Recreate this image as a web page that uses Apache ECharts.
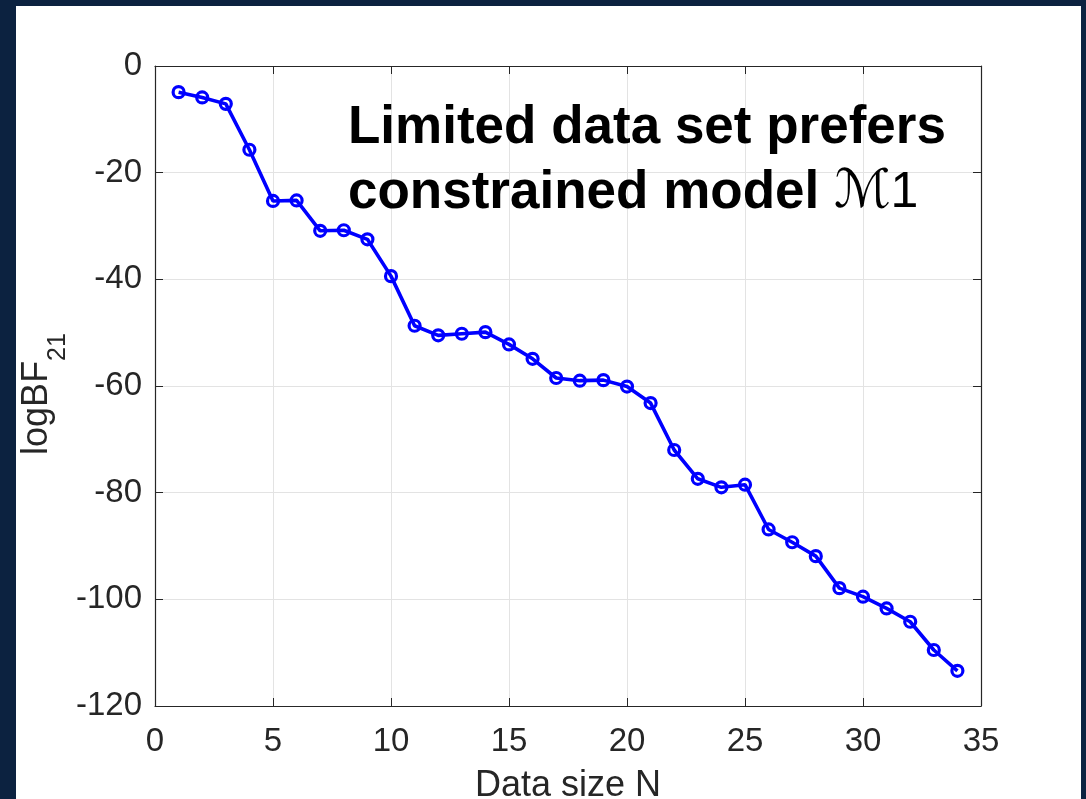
<!DOCTYPE html>
<html>
<head>
<meta charset="utf-8">
<script src="https://cdn.jsdelivr.net/npm/echarts@6/dist/echarts.min.js"></script>
<style>
  html, body { margin: 0; padding: 0; background: #0c2240; width: 1086px; height: 799px; overflow: hidden; }
  #chart { position: absolute; left: 16px; top: 6px; width: 1065px; height: 793px; background: #ffffff; }
</style>
</head>
<body>
<div id="chart"></div>
<script>
// Data size N and the log Bayes factor of model 2 vs model 1
const sizes = [1, 2, 3, 4, 5, 6, 7, 8, 9, 10, 11, 12, 13, 14, 15, 16, 17,
               18, 19, 20, 21, 22, 23, 24, 25, 26, 27, 28, 29, 30, 31, 32, 33, 34];
const logBF21 = [-4.9, -5.9, -7.1, -15.7, -25.3, -25.2, -30.9, -30.8, -32.5, -39.4,
                 -48.7, -50.5, -50.2, -49.9, -52.2, -54.9, -58.5, -59.0, -58.9, -60.1,
                 -63.2, -72.0, -77.4, -79.0, -78.5, -86.9, -89.3, -91.9, -97.9, -99.5,
                 -101.7, -104.2, -109.5, -113.4];
const xTicks = { min: 0, max: 35, step: 5 };
const yTicks = { min: -120, max: 0, step: 20 };

const FONT = '"Liberation Sans", Arial, Helvetica, sans-serif';
const INK = '#262626';

const chart = echarts.init(document.getElementById('chart'), null, { renderer: 'canvas' });

const tickStyle = { show: true, inside: true, length: 8, lineStyle: { color: INK, width: 1 } };
const lineStyle = { show: true, onZero: false, lineStyle: { color: INK, width: 1.2 } };
const gridStyle = { show: true, lineStyle: { color: '#e3e3e3', width: 1 } };

chart.setOption({
  animation: false,
  backgroundColor: '#ffffff',
  grid: { left: 139, right: 100, top: 60, bottom: 93, containLabel: false, outerBoundsMode: 'none' },
  xAxis: [
    {
      type: 'value', position: 'bottom',
      min: xTicks.min, max: xTicks.max, interval: xTicks.step,
      axisLine: lineStyle, axisTick: tickStyle, splitLine: gridStyle,
      axisLabel: { color: INK, fontSize: 33, fontFamily: FONT, margin: 19 },
      name: 'Data size N', nameLocation: 'middle', nameGap: 62,
      nameTextStyle: { color: INK, fontSize: 36, fontFamily: FONT }
    },
    {
      type: 'value', position: 'top',
      min: xTicks.min, max: xTicks.max, interval: xTicks.step,
      axisLine: lineStyle, axisTick: tickStyle, splitLine: { show: false },
      axisLabel: { show: false }
    }
  ],
  yAxis: [
    {
      type: 'value', position: 'left',
      min: yTicks.min, max: yTicks.max, interval: yTicks.step,
      axisLine: lineStyle, axisTick: tickStyle, splitLine: gridStyle,
      axisLabel: { color: INK, fontSize: 33, fontFamily: FONT, margin: 13 },
      name: '{a|logBF}{s|21}', nameLocation: 'middle', nameGap: 100, nameRotate: 90,
      nameMoveOverlap: false,
      nameTextStyle: {
        rich: {
          a: { fontSize: 36, fontFamily: FONT, color: INK, lineHeight: 36, verticalAlign: 'top' },
          s: { fontSize: 25, fontFamily: FONT, color: INK, lineHeight: 25, padding: [27, 16, 0, 0], verticalAlign: 'top' }
        }
      }
    },
    {
      type: 'value', position: 'right',
      min: yTicks.min, max: yTicks.max, interval: yTicks.step,
      axisLine: lineStyle, axisTick: tickStyle, splitLine: { show: false },
      axisLabel: { show: false }
    }
  ],
  graphic: [
    {
      type: 'text', left: 332, top: 96, z: 100,
      style: {
        text: '{b|Limited data set prefers}\n{b|constrained model }{m|\u2133}{n|1}',
        rich: {
          b: { fontSize: 53, fontWeight: 'bold', fontFamily: FONT, fill: '#000000', lineHeight: 65 },
          m: { fontSize: 53, fontStyle: 'italic', fontFamily: '"DejaVu Serif", "DejaVu Sans", serif', fill: '#000000', lineHeight: 65 },
          n: { fontSize: 50, fontFamily: FONT, fill: '#000000', lineHeight: 65 }
        }
      }
    }
  ],
  series: [
    {
      type: 'line',
      xAxisIndex: 0, yAxisIndex: 0,
      data: sizes.map((n, i) => [n, logBF21[i]]),
      lineStyle: { color: '#0000ff', width: 3.6 },
      symbol: 'circle', symbolSize: 11,
      itemStyle: { color: 'rgba(0,0,0,0)', borderColor: '#0000ff', borderWidth: 3.2 },
      z: 5
    }
  ]
});
</script>
</body>
</html>
